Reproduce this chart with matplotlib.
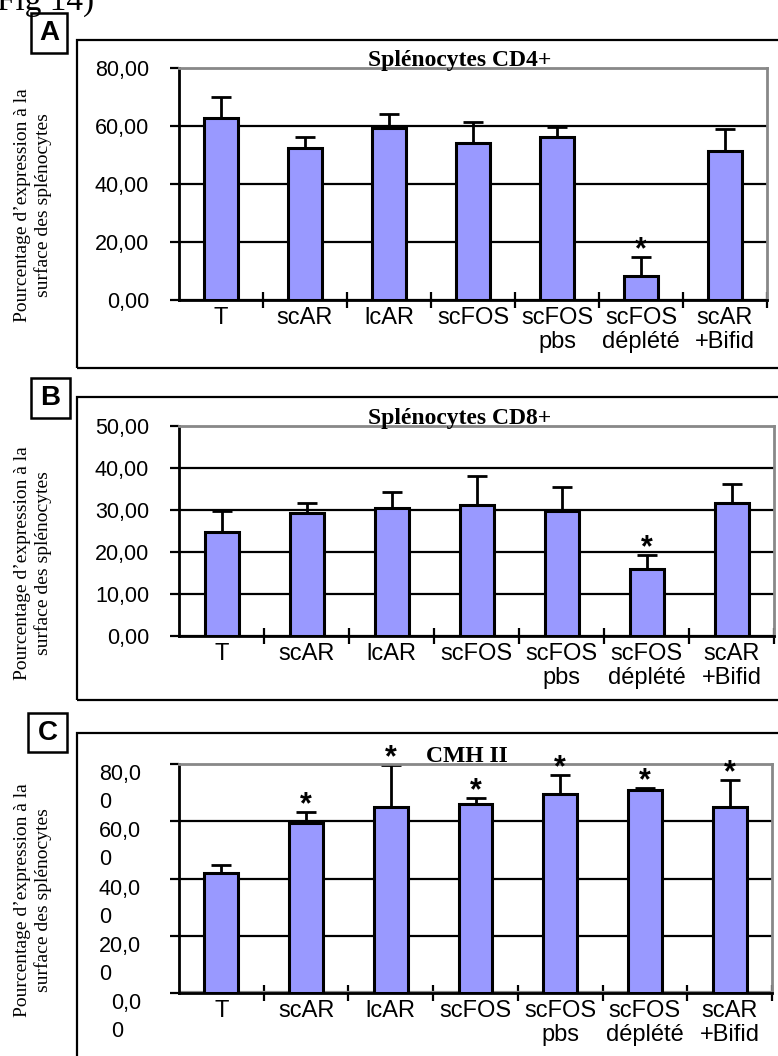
import numpy as np
import matplotlib
matplotlib.use("Agg")
import matplotlib.pyplot as plt
from matplotlib.patches import Rectangle

W, H = 778, 1056

categories = ['T', 'scAR', 'lcAR', 'scFOS', 'scFOS\npbs', 'scFOS\ndéplété', 'scAR\n+Bifid']

cd4_mean = [62.8, 52.4, 59.3, 54.1, 56.2, 8.3, 51.4]
cd4_err = [7.2, 3.8, 4.8, 7.3, 3.5, 6.5, 7.6]
cd4_stars = [5]

cd8_mean = [24.8, 29.3, 30.5, 31.2, 29.8, 15.9, 31.7]
cd8_err = [5.0, 2.4, 3.8, 6.9, 5.7, 3.4, 4.5]
cd8_stars = [5]

cmh_mean = [42.0, 59.4, 65.0, 66.0, 69.6, 71.0, 65.0]
cmh_err = [2.8, 3.9, 14.7, 2.2, 6.6, 0.7, 9.5]
cmh_stars = [1, 2, 3, 4, 5, 6]

cd4_ticks = [0, 20, 40, 60, 80]
cd4_labels = ['0,00', '20,00', '40,00', '60,00', '80,00']
cd8_ticks = [0, 10, 20, 30, 40, 50]
cd8_labels = ['0,00', '10,00', '20,00', '30,00', '40,00', '50,00']
cmh_ticks = [0, 20, 40, 60, 80]
cmh_labels = ['0,0\n0', '20,0\n0', '40,0\n0', '60,0\n0', '80,0\n0']

ylabel = "Pourcentage d\u2019expression à la\nsurface des splénocytes"

BAR = '#9999ff'
SANS = 'Liberation Sans'
SERIF = 'Liberation Serif'


def px(x0, y0, x1, y1):
    # pixel box (top-left origin) -> figure fraction rect
    return [x0 / W, 1 - y1 / H, (x1 - x0) / W, (y1 - y0) / H]


def panel(fig, rect, means, errs, stars, ticks, tlabels, title, tx, multi=False):
    ax = fig.add_axes(rect)
    x = np.arange(len(categories))
    ax.set_axisbelow(True)
    ax.bar(x, means, width=0.40, color=BAR, edgecolor='black', linewidth=2.2, zorder=3)
    ax.errorbar(x, means, yerr=[np.zeros(len(errs)), errs], fmt='none',
                ecolor='black', elinewidth=2, capsize=7, capthick=2, zorder=2)
    ax.set_xlim(-0.5, len(categories) - 0.5)
    ax.set_ylim(0, ticks[-1])
    ax.set_yticks(ticks)
    if multi:
        ax.set_yticklabels(tlabels, fontsize=15.5, family=SANS, va='top',
                           ha='right', multialignment='left', linespacing=1.45)
        ax.tick_params(axis='y', pad=21)
    else:
        ax.set_yticklabels(tlabels, fontsize=15.5, family=SANS)
        ax.tick_params(axis='y', pad=15)
    ax.tick_params(axis='y', direction='out', length=6.5, width=1.6)
    ax.set_xticks(x)
    ax.set_xticklabels(categories, fontsize=17, family=SANS, linespacing=1.1)
    ax.tick_params(axis='x', length=0, pad=5)
    ax.set_xticks(np.arange(0.5, len(categories), 1.0), minor=True)
    ax.tick_params(axis='x', which='minor', direction='inout', length=11, width=1.6)
    ax.yaxis.grid(True, color='black', linewidth=1.6)
    ax.get_ygridlines()[-1].set_color('#888888')
    for s in ['top', 'right']:
        ax.spines[s].set_color('#888888')
        ax.spines[s].set_linewidth(2)
    for s in ['left', 'bottom']:
        ax.spines[s].set_linewidth(2)
    for i in stars:
        ax.annotate('*', xy=(i, means[i] + errs[i]), xytext=(0, 5), textcoords='offset points',
                    ha='center', va='center', fontsize=22, fontweight='bold', family=SANS,
                    zorder=5)
    ax.text(tx, 1.008, title, transform=ax.transAxes, ha='center', va='baseline',
            fontsize=17, fontweight='bold', family=SERIF)
    return ax


fig = plt.figure(figsize=(W / 100, H / 100), dpi=100)

# outer frames
for y0, y1 in [(40, 368), (397, 700), (733, 1070)]:
    fig.patches.append(Rectangle((77 / W, 1 - y1 / H), 1.0, (y1 - y0) / H,
                                 transform=fig.transFigure, fill=False,
                                 edgecolor='black', linewidth=1.6))

# panel letters
for letter, (x0, y0, x1, y1) in [('A', (31, 13, 67, 53)), ('B', (31, 378, 70, 418)),
                                  ('C', (28, 713, 67, 752))]:
    fig.patches.append(Rectangle((x0 / W, 1 - y1 / H), (x1 - x0) / W, (y1 - y0) / H,
                                 transform=fig.transFigure, fill=False,
                                 edgecolor='black', linewidth=1.8))
    fig.text((x0 + x1) / 2 / W, 1 - (y0 + y1) / 2 / H, letter, ha='center', va='center',
             fontsize=20, fontweight='bold', family=SANS)

fig.text(-0.004, 1 - 10 / H, 'Fig 14)', ha='left', va='baseline', fontsize=24, family=SERIF)

panel(fig, px(179, 68, 767, 300), cd4_mean, cd4_err, cd4_stars, cd4_ticks, cd4_labels,
      'Splénocytes CD4+', 0.478)
panel(fig, px(179, 426, 774, 636), cd8_mean, cd8_err, cd8_stars, cd8_ticks, cd8_labels,
      'Splénocytes CD8+', 0.472)
axc = panel(fig, px(179, 764, 772, 993), cmh_mean, cmh_err, cmh_stars, cmh_ticks, cmh_labels,
            'CMH II', 0.486, multi=True)
axc.axhline(0, color='#888888', linewidth=3, zorder=2.5)

for yc in [205, 563, 900]:
    fig.text(33 / W, 1 - yc / H, ylabel, rotation=90, ha='center', va='center',
             fontsize=14, family=SERIF, linespacing=1.2, multialignment='center')

fig.savefig('out.png', dpi=100)
